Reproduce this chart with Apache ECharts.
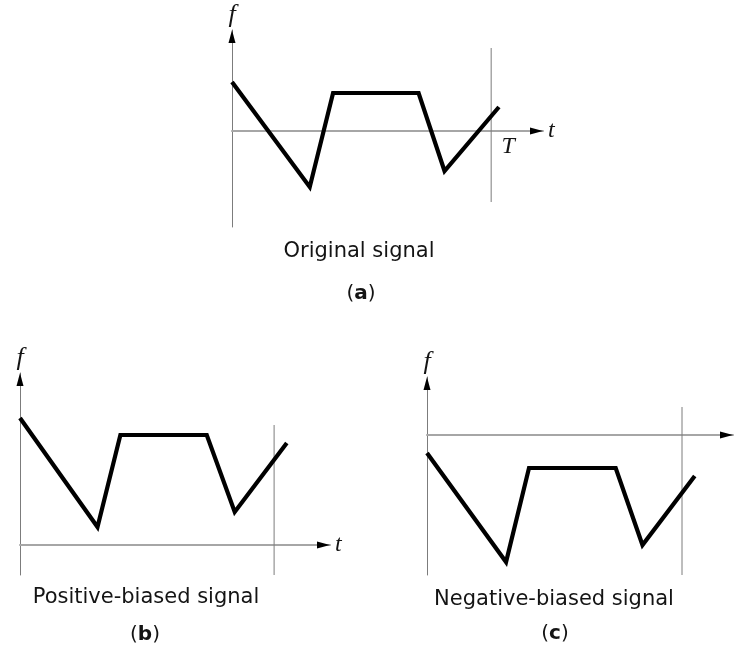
<!DOCTYPE html>
<html>
<head>
<meta charset="utf-8">
<script src="https://cdn.jsdelivr.net/npm/echarts@6/dist/echarts.min.js"></script>
<style>
  html, body { margin: 0; padding: 0; background: #fff; }
  #chart { width: 735px; height: 660px; }
</style>
</head>
<body>
<div id="chart"></div>
<script>
// Period length: the vertical marker in every panel stands at t = T
const PERIOD_T = 10;

// Corner times of the piecewise-linear waveform, one list per panel
const timesOriginal = [0, 3.0, 3.9, 7.2, 8.2, 10.3];
const timesPositive = [0, 3.05, 3.95, 7.35, 8.45, 10.5];
const timesNegative = [0, 3.1, 4.0, 7.4, 8.45, 10.5];

// Signal level at each corner
const valuesOriginal = [4.9, -5.6, 3.8, 3.8, -4.0, 2.4];
const valuesPositive = [12.7, 1.8, 11.0, 11.0, 3.3, 10.2];
const valuesNegative = [-1.8, -12.7, -3.3, -3.3, -11.0, -4.1];

// Vertical extent [bottom, top] of the period marker line
const periodMarkOriginal = [-7.1, 8.3];
const periodMarkPositive = [-3.0, 12.0];
const periodMarkNegative = [-14.0, 2.8];

// Axis extents [min, max]
const tRangeOriginal = [0, 12.0];
const tRangePositive = [0, 12.2];
const tRangeNegative = [0, 12.0];
const fRangeOriginal = [-9.6, 10.1];
const fRangePositive = [-3.0, 17.2];
const fRangeNegative = [-14.0, 5.8];

// Text
const captions = ['Original signal', 'Positive-biased signal', 'Negative-biased signal'];
const panelLetters = ['a', 'b', 'c'];
const fAxisName = 'f';
const tAxisName = 't';
const periodName = 'T';

const SANS = '"DejaVu Sans", "Liberation Sans", sans-serif';
const SERIF = '"Liberation Serif", "DejaVu Serif", serif';
const TEXT_COLOR = '#141414';

const panels = [
  {
    times: timesOriginal, values: valuesOriginal, mark: periodMarkOriginal,
    tRange: tRangeOriginal, fRange: fRangeOriginal,
    grid: { left: 232, top: 30, width: 311, height: 197 },
    showTName: true, showPeriodName: true,
    caption: { x: 359, y: 252 }, letter: { x: 361, y: 294 }
  },
  {
    times: timesPositive, values: valuesPositive, mark: periodMarkPositive,
    tRange: tRangePositive, fRange: fRangePositive,
    grid: { left: 20, top: 373, width: 310, height: 202 },
    showTName: true, showPeriodName: false,
    caption: { x: 146, y: 598 }, letter: { x: 145, y: 635 }
  },
  {
    times: timesNegative, values: valuesNegative, mark: periodMarkNegative,
    tRange: tRangeNegative, fRange: fRangeNegative,
    grid: { left: 427, top: 377, width: 306, height: 198 },
    showTName: false, showPeriodName: false,
    caption: { x: 554, y: 600 }, letter: { x: 555, y: 634 }
  }
];

const ARROW_RIGHT = 'path://M0,0L13,3.5L0,7Z';
const ARROW_UP = 'path://M0,13L3.5,0L7,13Z';

const grids = [], xAxes = [], yAxes = [], series = [], graphics = [];

panels.forEach((p, i) => {
  grids.push(Object.assign({ containLabel: false }, p.grid));

  xAxes.push({
    type: 'value', gridIndex: i, min: p.tRange[0], max: p.tRange[1],
    axisLine: { show: true, onZero: true, lineStyle: { color: '#a6a6a6', width: 2 } },
    axisTick: { show: false }, axisLabel: { show: false }, splitLine: { show: false },
    name: p.showTName ? tAxisName : '', nameLocation: 'end', nameGap: 5,
    nameTextStyle: { fontFamily: SERIF, fontStyle: 'italic', fontSize: 24, color: TEXT_COLOR }
  });

  yAxes.push({
    type: 'value', gridIndex: i, min: p.fRange[0], max: p.fRange[1],
    axisLine: { show: true, onZero: true, lineStyle: { color: '#7c7c7c', width: 1 } },
    axisTick: { show: false }, axisLabel: { show: false }, splitLine: { show: false },
    name: fAxisName, nameLocation: 'end', nameGap: 2,
    nameTextStyle: { fontFamily: SERIF, fontStyle: 'italic', fontSize: 26, color: TEXT_COLOR,
                     align: 'center', verticalAlign: 'bottom' }
  });

  // period marker at t = T
  series.push({
    type: 'line', xAxisIndex: i, yAxisIndex: i, symbol: 'none', silent: true,
    data: p.mark.map(v => [PERIOD_T, v]),
    lineStyle: { color: '#7c7c7c', width: 1 }, z: 2
  });

  // the waveform
  series.push({
    type: 'line', xAxisIndex: i, yAxisIndex: i, symbol: 'none', silent: true,
    data: p.times.map((t, k) => [t, p.values[k]]),
    lineStyle: { color: '#000', width: 4.2, join: 'miter', cap: 'butt' }, z: 3
  });

  // arrowheads at the ends of both axes
  series.push({
    type: 'scatter', xAxisIndex: i, yAxisIndex: i, silent: true, clip: false,
    symbol: ARROW_RIGHT, symbolSize: [13, 7], symbolOffset: [-6.5, 0],
    itemStyle: { color: '#000', opacity: 1 },
    data: [[p.tRange[1], 0]], z: 4
  });
  series.push({
    type: 'scatter', xAxisIndex: i, yAxisIndex: i, silent: true, clip: false,
    symbol: ARROW_UP, symbolSize: [7, 13], symbolOffset: [0, 6.5],
    itemStyle: { color: '#000', opacity: 1 },
    data: [[p.tRange[0], p.fRange[1]]], z: 4
  });

  graphics.push({
    type: 'text', x: p.caption.x, y: p.caption.y, silent: true,
    style: {
      text: captions[i], font: '21px ' + SANS, fill: TEXT_COLOR,
      align: 'center', verticalAlign: 'middle'
    }
  });
  graphics.push({
    type: 'text', x: p.letter.x, y: p.letter.y, silent: true,
    style: {
      text: '{p|(}{b|' + panelLetters[i] + '}{p|)}',
      align: 'center', verticalAlign: 'middle',
      rich: {
        p: { fontSize: 20, fontFamily: SANS, fill: TEXT_COLOR, color: TEXT_COLOR },
        b: { fontSize: 20, fontFamily: SANS, fontWeight: 'bold', fill: TEXT_COLOR, color: TEXT_COLOR }
      }
    }
  });
});

const chart = echarts.init(document.getElementById('chart'), null, { renderer: 'canvas' });
chart.setOption({
  backgroundColor: '#ffffff',
  animation: false,
  grid: grids,
  xAxis: xAxes,
  yAxis: yAxes,
  series: series,
  graphic: graphics
});

// "T" sits just below the t-axis, right of the period marker
panels.forEach((p, i) => {
  if (!p.showPeriodName) return;
  const at = chart.convertToPixel({ gridIndex: i }, [PERIOD_T, 0]);
  graphics.push({
    type: 'text', x: at[0] + 17, y: at[1] + 16, silent: true,
    style: {
      text: periodName, font: 'italic 24px ' + SERIF, fill: TEXT_COLOR,
      align: 'center', verticalAlign: 'middle'
    }
  });
});
chart.setOption({ graphic: graphics }, { replaceMerge: ['graphic'] });
</script>
</body>
</html>
